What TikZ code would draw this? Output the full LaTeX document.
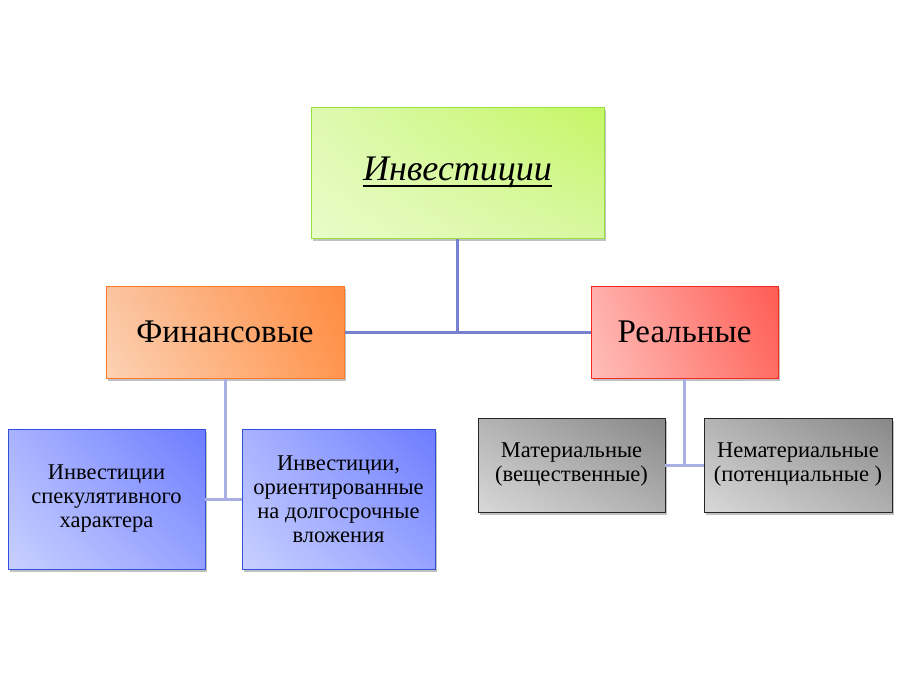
\documentclass[tikz,border=0pt]{standalone}
\usepackage{fontspec}
\setmainfont{Liberation Serif}
\usetikzlibrary{shadows,shadings}
\newcommand\thickul[1]{\setbox0=\hbox{#1}\leavevmode\rlap{\rule[-6.5pt]{\wd0}{2.2pt}}\box0}
\definecolor{connA}{HTML}{7880D0}
\definecolor{connB}{HTML}{A9AFE2}
\definecolor{gBd}{RGB}{150,226,60}
\definecolor{gLL}{RGB}{232,252,200}
\definecolor{gUL}{RGB}{222,249,176}
\definecolor{gLR}{RGB}{216,247,160}
\definecolor{gUR}{RGB}{196,246,100}
\definecolor{oBd}{RGB}{255,120,40}
\definecolor{oLL}{RGB}{252,210,180}
\definecolor{oUL}{RGB}{250,196,160}
\definecolor{oLR}{RGB}{255,150,80}
\definecolor{oUR}{RGB}{255,140,66}
\definecolor{rBd}{RGB}{250,40,30}
\definecolor{rLL}{RGB}{255,190,186}
\definecolor{rUL}{RGB}{255,176,172}
\definecolor{rLR}{RGB}{255,110,100}
\definecolor{rUR}{RGB}{255,92,84}
\definecolor{bBd}{RGB}{50,80,220}
\definecolor{bLL}{RGB}{200,208,255}
\definecolor{bUL}{RGB}{168,178,255}
\definecolor{bLR}{RGB}{150,162,255}
\definecolor{bUR}{RGB}{108,124,255}
\definecolor{kLL}{RGB}{216,216,216}
\definecolor{kUL}{RGB}{180,180,180}
\definecolor{kLR}{RGB}{176,176,176}
\definecolor{kUR}{RGB}{136,136,136}
\tikzset{
  box/.style={rectangle, inner sep=2pt, align=center, text=black,
    drop shadow={shadow xshift=2pt, shadow yshift=-3pt, opacity=0.35, fill=black!70}},
  greenbox/.style={box, draw=gBd, line width=1pt,
    lower left=gLL, upper left=gUL, lower right=gLR, upper right=gUR},
  orangebox/.style={box, draw=oBd, line width=1pt,
    lower left=oLL, upper left=oUL, lower right=oLR, upper right=oUR},
  redbox/.style={box, draw=rBd, line width=1pt,
    lower left=rLL, upper left=rUL, lower right=rLR, upper right=rUR},
  bluebox/.style={box, draw=bBd, line width=0.8pt,
    lower left=bLL, upper left=bUL, lower right=bLR, upper right=bUR},
  graybox/.style={box, draw=black!85, line width=0.8pt,
    lower left=kLL, upper left=kUL, lower right=kLR, upper right=kUR},
  bigtext/.style={font=\fontsize{33}{38}\selectfont},
  titletext/.style={font=\fontsize{36}{42}\selectfont\itshape},
  smalltext/.style={font=\fontsize{22.5}{24}\selectfont},
  connmain/.style={draw=connA, line width=3pt},
  connsub/.style={draw=connB, line width=3pt},
}
\begin{document}
\begin{tikzpicture}[x=1pt, y=-1pt]
\useasboundingbox (0,0) rectangle (911,675);
% nodes
\node[greenbox, titletext, minimum width=293pt, minimum height=131pt] (top) at (457.5,172.5)
  {\thickul{Инвестиции}};
\node[orangebox, bigtext, minimum width=238pt, minimum height=92pt] (fin) at (225,332)
  {Финансовые};
\node[redbox, bigtext, minimum width=187pt, minimum height=92pt] (real) at (684.5,332)
  {Реальные};
\node[bluebox, smalltext, minimum width=197pt, minimum height=140pt] (b1) at (106.5,499)
  {Инвестиции\\спекулятивного\\характера};
\node[bluebox, smalltext, minimum width=193pt, minimum height=140pt] (b2) at (338.5,499)
  {Инвестиции,\\ориентированные\\на долгосрочные\\вложения};
\node[graybox, smalltext, minimum width=187pt, minimum height=94pt] (g1) at (571.5,465)
  {Материальные\\(вещественные)};
\node[graybox, smalltext, minimum width=188pt, minimum height=94pt] (g2) at (798,465)
  {Нематериальные\\(потенциальные )};
% connectors
\coordinate (j1) at (top.south |- fin.east);
\coordinate (j2) at (fin.south |- b1.east);
\coordinate (j3) at (real.south |- g1.east);
\draw[connmain] (top.south) -- (j1);
\draw[connmain] (fin.east) -- (real.west);
\draw[connsub] (fin.south) -- (j2);
\draw[connsub] (b1.east) -- (b2.west);
\draw[connsub] (real.south) -- (j3);
\draw[connsub] (g1.east) -- (g2.west);
\end{tikzpicture}
\end{document}
